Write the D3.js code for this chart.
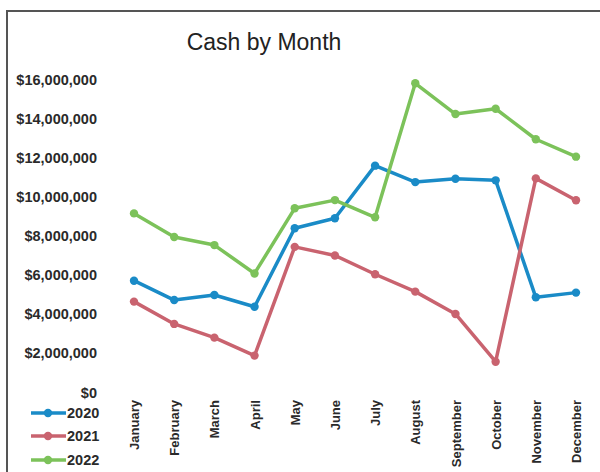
<!DOCTYPE html>
<html><head><meta charset="utf-8">
<script src="https://cdn.jsdelivr.net/npm/d3@7"></script>
<style>
html,body{margin:0;padding:0;background:#fff;}
svg{display:block;font-family:"Liberation Sans",Arial,sans-serif;}
</style></head>
<body>
<svg id="c" width="600" height="472"></svg>
<script>
const months = ["January","February","March","April","May","June","July","August","September","October","November","December"];
const seriesNames = ["2020","2021","2022"];
const values2020 = [5690000,4700000,4960000,4360000,8370000,8880000,11570000,10730000,10900000,10820000,4840000,5080000];
const values2021 = [4620000,3480000,2780000,1860000,7420000,6980000,6020000,5130000,3990000,1550000,10920000,9800000];
const values2022 = [9130000,7920000,7510000,6060000,9390000,9810000,8930000,15780000,14210000,14480000,12920000,12030000];
const yTicks = [0,2000000,4000000,6000000,8000000,10000000,12000000,14000000,16000000];
const colors = ["#1a8bc7","#c9636f","#7cc25a"];
const allSeries = [values2020, values2021, values2022];

const svg = d3.select("#c");
// frame
svg.append("path").attr("d","M7,472 L7,11 L600,11").attr("fill","none").attr("stroke","#555").attr("stroke-width",2);

svg.append("text").attr("x",264).attr("y",50).attr("text-anchor","middle")
  .attr("font-size",23).attr("fill","#222").text("Cash by Month");

const x = d3.scalePoint().domain(months).range([134,576]);
const y = d3.scaleLinear().domain([0,16000000]).range([392,79]);

const fmt = d => "$" + d3.format(",")(d);
const yAxis = svg.append("g").attr("transform","translate(97,0)")
  .call(d3.axisLeft(y).tickValues(yTicks).tickFormat(fmt).tickSize(0).tickPadding(0));
yAxis.select(".domain").remove();
yAxis.selectAll("text").attr("font-size",14.5).attr("font-weight","bold").attr("fill","#2a2a2a")
  .attr("font-family","'Liberation Sans',Arial,sans-serif").attr("dy","0.35em");

const xAxis = svg.append("g").attr("transform","translate(0,400)")
  .call(d3.axisBottom(x).tickSize(0).tickPadding(0));
xAxis.select(".domain").remove();
xAxis.selectAll("text").attr("font-size",13).attr("font-weight","bold").attr("fill","#2a2a2a")
  .attr("font-family","'Liberation Sans',Arial,sans-serif")
  .attr("transform","rotate(-90)").attr("text-anchor","end").attr("x",0).attr("y",0).attr("dy","0.35em");

const line = d3.line().x((d,i)=>x(months[i])).y(d=>y(d));
allSeries.forEach((vals,si)=>{
  const g = svg.append("g");
  g.append("path").attr("d",line(vals)).attr("fill","none").attr("stroke",colors[si])
    .attr("stroke-width",3.5).attr("stroke-linejoin","round");
  g.selectAll("circle").data(vals).join("circle")
    .attr("cx",(d,i)=>x(months[i])).attr("cy",d=>y(d)).attr("r",4.2).attr("fill",colors[si]);
});

// legend
const legY = [413,436,460];
seriesNames.forEach((n,i)=>{
  const g = svg.append("g");
  g.append("line").attr("x1",31).attr("x2",66).attr("y1",legY[i]).attr("y2",legY[i])
    .attr("stroke",colors[i]).attr("stroke-width",3.5);
  g.append("circle").attr("cx",48).attr("cy",legY[i]).attr("r",4.2).attr("fill",colors[i]);
  g.append("text").attr("x",67).attr("y",legY[i]).attr("dy","0.36em").attr("font-size",14.5)
    .attr("font-weight","bold").attr("fill","#2a2a2a").text(n);
});
</script>
</body></html>
